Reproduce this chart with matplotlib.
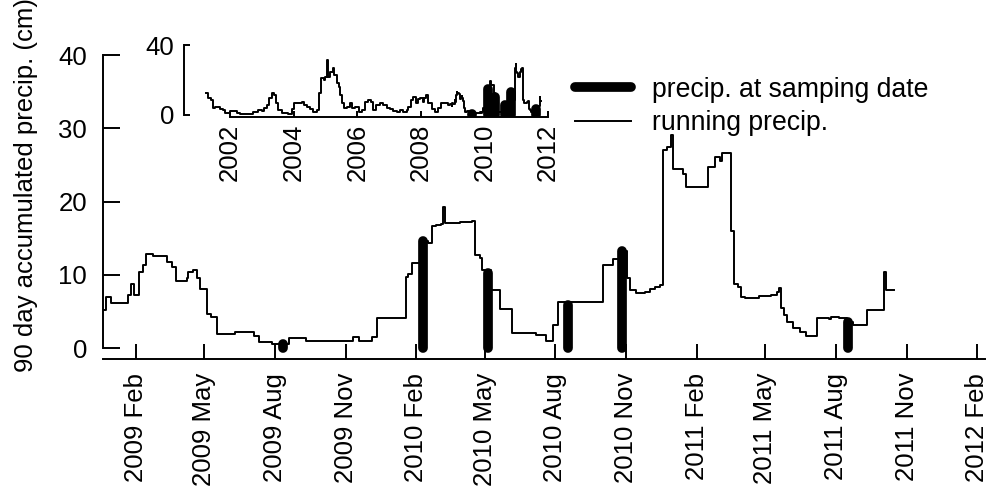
import pandas as pd
import matplotlib

matplotlib.use("Agg")

import matplotlib.pyplot as plt
import matplotlib.dates as mdates
from matplotlib.lines import Line2D

plt.rcParams["font.family"] = ["Liberation Sans", "DejaVu Sans"]

# running 90 day precip (cm), step points, study period
run_dates = [
    "2008-12-21", "2008-12-24", "2008-12-30", "2009-01-22", "2009-01-26", "2009-01-29",
    "2009-02-05", "2009-02-10", "2009-02-14", "2009-02-23", "2009-03-14", "2009-03-20",
    "2009-03-25", "2009-04-08", "2009-04-10", "2009-04-16", "2009-04-22", "2009-04-25",
    "2009-05-05", "2009-05-10", "2009-05-17", "2009-06-10", "2009-07-04", "2009-07-11",
    "2009-07-28", "2009-08-19", "2009-09-10", "2009-10-22", "2009-11-10", "2009-11-18",
    "2009-12-05", "2009-12-12", "2010-01-18", "2010-01-21", "2010-01-26", "2010-02-07",
    "2010-02-16", "2010-02-21", "2010-02-26", "2010-03-05", "2010-03-08", "2010-03-10",
    "2010-03-30", "2010-04-14", "2010-04-18", "2010-04-25", "2010-04-27", "2010-05-09",
    "2010-05-21", "2010-06-05", "2010-07-07", "2010-07-20", "2010-07-29", "2010-08-04",
    "2010-10-02", "2010-10-15", "2010-10-24", "2010-11-02", "2010-11-06", "2010-11-14",
    "2010-11-26", "2010-12-02", "2010-12-09", "2010-12-15", "2010-12-19", "2010-12-24",
    "2010-12-30", "2011-01-01", "2011-01-14", "2011-01-18", "2011-02-16", "2011-02-25",
    "2011-03-03", "2011-03-06", "2011-03-18", "2011-03-21", "2011-03-27", "2011-03-30",
    "2011-04-05", "2011-04-23", "2011-05-08", "2011-05-17", "2011-05-19", "2011-05-21",
    "2011-05-25", "2011-05-30", "2011-06-06", "2011-06-16", "2011-06-23", "2011-07-07",
    "2011-07-23", "2011-07-26", "2011-08-05", "2011-08-16", "2011-08-23", "2011-09-10",
    "2011-10-03", "2011-10-05", "2011-10-16",
]
run_vals = [
    5.2, 7.0, 6.1, 7.3, 8.8, 7.2,
    10.4, 11.3, 12.9, 12.6, 11.8, 11.0,
    9.2, 9.5, 10.4, 10.7, 9.5, 8.1,
    4.6, 4.2, 1.9, 2.2, 1.6, 0.8,
    0.6, 1.3, 1.0, 0.9, 1.5, 0.9,
    1.5, 4.1, 9.7, 10.1, 11.6, 14.6,
    14.3, 16.6, 16.8, 17.0, 19.3, 17.1,
    17.2, 17.4, 12.7, 12.3, 10.6, 7.9,
    5.3, 2.0, 1.8, 0.9, 3.1, 6.3,
    11.3, 12.2, 13.3, 9.5, 7.9, 7.5,
    7.7, 8.0, 8.4, 8.6, 27.0, 27.5,
    29.1, 24.5, 23.8, 22.0, 24.7, 26.1,
    25.6, 26.6, 16.0, 8.8, 8.3, 7.0,
    6.8, 7.1, 7.3, 7.6, 8.2, 5.4,
    4.5, 3.6, 2.7, 2.2, 1.6, 4.1,
    3.9, 4.3, 4.1, 3.5, 3.2, 5.2,
    10.4, 7.9, 7.9,
]

# earlier record, only shown in the inset
hist_dates = [
    "2001-04-02", "2001-04-27", "2001-05-23", "2001-06-14", "2001-07-13", "2001-08-19",
    "2001-09-10", "2001-10-09", "2001-11-03", "2002-01-01", "2002-03-18", "2002-04-24",
    "2002-08-19", "2002-09-24", "2002-11-21", "2003-01-01", "2003-01-19", "2003-02-24",
    "2003-03-18", "2003-04-23", "2003-05-19", "2003-06-13", "2003-07-09", "2003-08-15",
    "2003-10-31", "2003-12-10", "2004-01-05", "2004-03-14", "2004-04-01", "2004-04-23",
    "2004-05-30", "2004-07-09", "2004-08-15", "2004-09-24", "2004-10-23", "2004-11-10",
    "2004-12-09", "2004-12-27", "2005-01-15", "2005-02-02", "2005-02-24", "2005-03-22",
    "2005-04-13", "2005-05-09", "2005-05-31", "2005-06-18", "2005-07-06", "2005-08-01",
    "2005-09-03", "2005-10-09", "2005-10-31", "2005-12-06", "2006-01-15", "2006-02-21",
    "2006-04-02", "2006-05-08", "2006-06-03", "2006-06-29", "2006-07-31", "2006-09-16",
    "2006-10-27", "2006-12-02", "2007-01-11", "2007-02-17", "2007-03-29", "2007-05-05",
    "2007-06-14", "2007-07-20", "2007-08-11", "2007-09-06", "2007-10-05", "2007-11-03",
    "2007-11-25", "2007-12-20", "2008-01-23", "2008-02-10", "2008-02-28", "2008-03-25",
    "2008-05-05", "2008-06-10", "2008-07-20", "2008-08-15", "2008-10-05", "2008-11-10",
    "2008-12-01",
]
hist_vals = [
    12.8, 9.5, 8.6, 3.8, 4.8, 4.8,
    3.2, 2.9, 1.3, 2.3, 1.3, 0.6,
    0.4, 1.9, 2.9, 2.5, 3.8, 5.7,
    9.5, 12.4, 11.4, 6.7, 2.9, 1.0,
    0.6, 3.2, 6.7, 6.7, 7.6, 5.7,
    4.8, 3.2, 1.9, 2.9, 12.4, 21.0,
    20.0, 21.9, 31.4, 21.9, 24.8, 26.7,
    22.9, 18.1, 16.2, 11.4, 6.7, 3.8,
    4.8, 6.7, 3.8, 4.8, 1.9, 2.9,
    7.6, 8.6, 7.6, 2.8, 5.7, 6.7,
    5.7, 3.8, 3.2, 2.3, 1.9, 2.9,
    1.9, 2.9, 4.8, 8.6, 10.5, 6.7,
    9.0, 9.5, 7.6, 9.5, 11.4, 6.7,
    3.2, 1.9, 3.8, 6.7, 6.7, 5.7,
    6.5,
]

# precip at sampling dates
samp_dates = ["2009-08-12", "2010-02-10", "2010-05-05", "2010-08-18", "2010-10-27", "2011-08-17"]
samp_vals = [0.5, 14.6, 10.3, 5.9, 13.2, 3.5]

main_ticks = pd.date_range("2009-02-01", "2012-02-01", freq="3MS")
inset_ticks = pd.to_datetime(["2002-01-01", "2004-01-01", "2006-01-01",
                              "2008-01-01", "2010-01-01", "2012-01-01"])

run_d = pd.to_datetime(run_dates)
hist_d = pd.to_datetime(hist_dates)
samp_d = pd.to_datetime(samp_dates)

FS = 18.5
FS_LEG = 19.2
THICK = 7.0
THIN = 1.4

fig = plt.figure(figsize=(9.92, 4.97), dpi=100)

# MAIN PANEL
ax = fig.add_axes([0.1038, 0.2777, 0.889, 0.682])
ax.vlines(samp_d, 0, samp_vals, colors="black", linewidth=THICK, capstyle="round")
ax.plot(run_d, run_vals, color="black", linewidth=THIN, drawstyle="steps-post")

ax.set_xlim(pd.Timestamp("2008-12-20"), pd.Timestamp("2012-02-11"))
ax.set_ylim(-1.5, 44.8)
ax.set_yticks([0, 10, 20, 30, 40])
ax.set_xticks(main_ticks)
ax.set_xticklabels([d.strftime("%Y %b") for d in main_ticks], rotation=90)

for s in ["top", "right"]:
    ax.spines[s].set_visible(False)
ax.spines["left"].set_bounds(0, 40)
ax.spines["left"].set_linewidth(1.4)
ax.spines["bottom"].set_linewidth(1.4)

ax.tick_params(axis="y", direction="in", length=12, width=1.4, pad=11.5, labelsize=FS)
ax.tick_params(axis="x", direction="in", length=11, width=1.4, pad=10, labelsize=FS)

ax.set_ylabel("90 day accumulated precip. (cm)", fontsize=FS)
ax.yaxis.set_label_coords(-0.074, 0.513)

# INSET, whole record
ins = fig.add_axes([0.1855, 0.7646, 0.374, 0.155])
ins.vlines(samp_d, 0, samp_vals, colors="black", linewidth=THICK, capstyle="round")
ins.plot(hist_d.append(run_d), hist_vals + run_vals, color="black",
         linewidth=THIN, drawstyle="steps-post")

ins.set_xlim(pd.Timestamp("2000-07-20"), pd.Timestamp("2012-03-20"))
ins.set_ylim(-1.14, 42.9)
ins.set_yticks([0, 40])
ins.set_xticks(inset_ticks)
ins.set_xticklabels([d.strftime("%Y") for d in inset_ticks], rotation=90)
ins.patch.set_alpha(0)

for s in ["top", "right"]:
    ins.spines[s].set_visible(False)
ins.spines["left"].set_bounds(0, 40)
ins.spines["bottom"].set_bounds(mdates.date2num(inset_ticks[0]), mdates.date2num(inset_ticks[-1]))
ins.spines["left"].set_linewidth(1.4)
ins.spines["bottom"].set_linewidth(1.4)
ins.tick_params(axis="y", direction="in", length=4, width=1.4, pad=7, labelsize=FS)
ins.tick_params(axis="x", direction="in", length=4, width=1.4, pad=5, labelsize=FS)

# LEGEND
handles = [
    Line2D([], [], color="black", linewidth=THICK, solid_capstyle="round"),
    Line2D([], [], color="black", linewidth=THIN),
]
fig.legend(
    handles,
    ["precip. at samping date", "running precip."],
    loc="upper left",
    bbox_to_anchor=(0.5796, 0.8456),
    frameon=False,
    fontsize=FS_LEG,
    handlelength=2.1,
    handletextpad=0.78,
    labelspacing=0.27,
    borderpad=0,
    borderaxespad=0,
)

fig.savefig("out.png", dpi=100)
plt.close(fig)
